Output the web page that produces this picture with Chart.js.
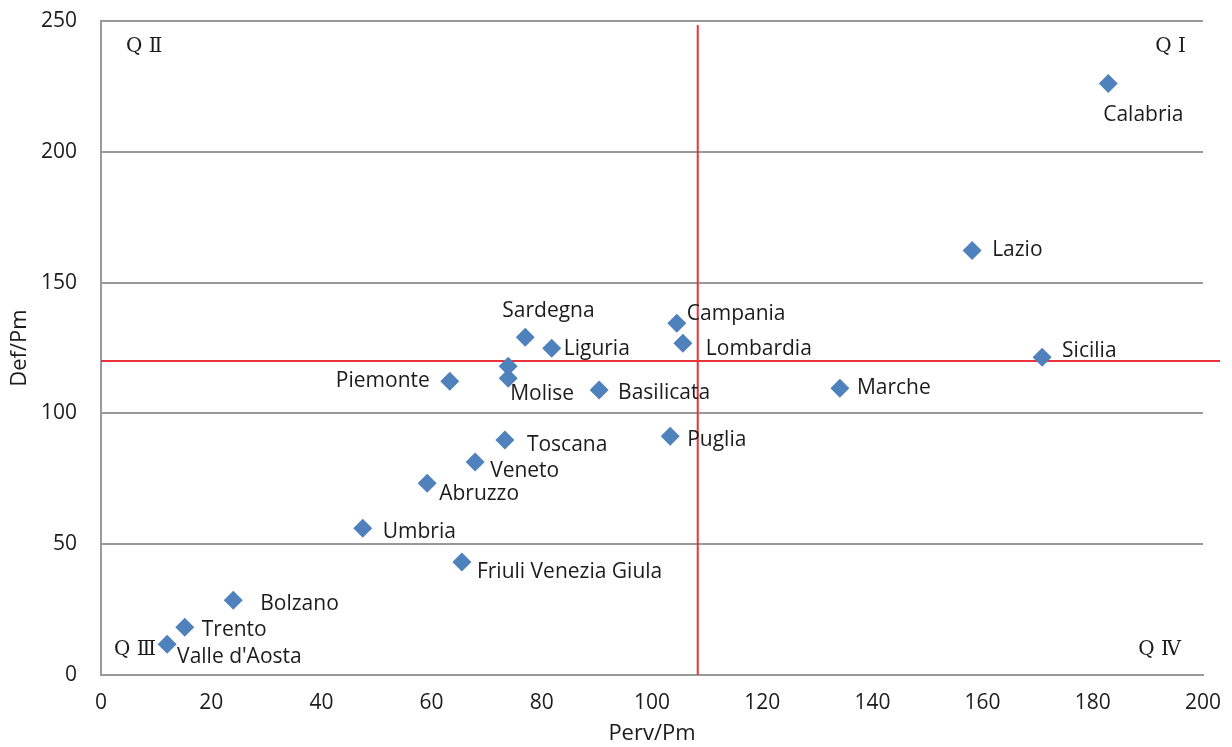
<!DOCTYPE html>
<html>
<head>
<meta charset="utf-8">
<script src="https://cdn.jsdelivr.net/npm/chart.js"></script>
<style>
  html, body { margin: 0; padding: 0; background: #fff; }
  #wrap { width: 1232px; height: 747px; }
</style>
</head>
<body>
<div id="wrap"><canvas id="quadChart"></canvas></div>
<script>
// regions and their (Perv/Pm, Def/Pm) values
const regions = ['Calabria', 'Lazio', 'Sicilia', 'Marche', 'Campania', 'Lombardia', 'Puglia',
  'Basilicata', 'Liguria', 'Sardegna', '', 'Molise', 'Piemonte', 'Toscana', 'Veneto',
  'Abruzzo', 'Umbria', 'Friuli Venezia Giula', 'Bolzano', 'Trento', "Valle d'Aosta"];
const pervPm = [182.8, 158.1, 170.8, 134.1, 104.5, 105.6, 103.3,
  90.4, 81.8, 77.0, 73.9, 73.9, 63.3, 73.3, 67.9,
  59.2, 47.5, 65.5, 24.0, 15.2, 12.0];
const defPm = [226.1, 162.3, 121.5, 109.6, 134.5, 126.8, 91.3,
  108.9, 124.9, 129.1, 118.0, 113.4, 112.3, 89.8, 81.4,
  73.3, 56.1, 43.2, 28.6, 18.3, 11.8];

// quadrant split lines
const splitX = 108.3;
const splitY = 120;

const xTicks = [0, 20, 40, 60, 80, 100, 120, 140, 160, 180, 200];
const yTicks = [0, 50, 100, 150, 200, 250];

// label placement next to each marker: [dx, dy, align]
const labelPos = [
  [-5, 31, 'left'], [20, 0, 'left'], [20, -6, 'left'], [17, 0, 'left'],
  [10, -9, 'left'], [23, 6, 'left'], [17, 4, 'left'], [19, 3, 'left'],
  [12, 1, 'left'], [-23, -26, 'left'], [0, 0, 'left'], [2, 16, 'left'],
  [-20, 0, 'right'], [22, 5, 'left'], [15, 9, 'left'], [12, 11, 'left'],
  [20, 4, 'left'], [15, 10, 'left'], [27, 4, 'left'], [17, 3, 'left'],
  [10, 13, 'left']
];

const TEXT = '#1c1c1c';
const FONT = "'Open Sans', 'DejaVu Sans', sans-serif";

const points = pervPm.map((x, i) => ({ x: x, y: defPm[i] }));

const quadPlugin = {
  id: 'quadrants',
  beforeDatasetsDraw(chart) {
    const { ctx, chartArea, scales } = chart;
    const px = scales.x.getPixelForValue(splitX);
    const py = scales.y.getPixelForValue(splitY);
    ctx.save();
    ctx.strokeStyle = '#e8323c';
    ctx.lineWidth = 2;
    ctx.beginPath();
    ctx.moveTo(px, chartArea.top + 4);
    ctx.lineTo(px, chartArea.bottom);
    ctx.moveTo(chartArea.left, py);
    ctx.lineTo(chartArea.right + 17, py);
    ctx.stroke();
    ctx.restore();
  },
  afterDatasetsDraw(chart) {
    const { ctx, chartArea } = chart;
    const meta = chart.getDatasetMeta(0);
    ctx.save();
    ctx.fillStyle = TEXT;
    ctx.textBaseline = 'middle';
    ctx.font = '21px ' + FONT;
    meta.data.forEach((pt, i) => {
      const p = labelPos[i];
      ctx.textAlign = p[2];
      ctx.fillText(regions[i], pt.x + p[0], pt.y + p[1]);
    });
    // quadrant names
    ctx.font = "20px 'DejaVu Serif', 'Liberation Serif', serif";
    ctx.textAlign = 'left';
    ctx.fillText('Q \u2161', chartArea.left + 25, chartArea.top + 26);
    ctx.fillText('Q \u2162', chartArea.left + 13, chartArea.bottom - 25);
    ctx.textAlign = 'right';
    ctx.fillText('Q \u2160', chartArea.right - 17, chartArea.top + 26);
    ctx.fillText('Q \u2163', chartArea.right - 22, chartArea.bottom - 25);
    ctx.restore();
  }
};

new Chart(document.getElementById('quadChart'), {
  type: 'scatter',
  data: {
    datasets: [{
      data: points,
      pointStyle: 'rectRot',
      pointRadius: 9.5,
      pointHoverRadius: 9.5,
      backgroundColor: '#4f81bd',
      borderColor: '#4f81bd',
      borderWidth: 0
    }]
  },
  options: {
    responsive: true,
    maintainAspectRatio: false,
    animation: false,
    layout: { padding: { top: 21, right: 29, left: 0, bottom: 0 } },
    plugins: {
      legend: { display: false },
      tooltip: { enabled: false }
    },
    scales: {
      x: {
        type: 'linear',
        min: 0,
        max: 200,
        afterBuildTicks: axis => { axis.ticks = xTicks.map(v => ({ value: v })); },
        afterFit: axis => {
          axis.height = 72;
          axis.paddingLeft = 0;
          axis.paddingRight = 0;
        },
        grid: { display: false, drawTicks: false },
        border: { display: true, color: '#999999', width: 2 },
        ticks: { color: TEXT, font: { family: FONT, size: 21 }, padding: 15, maxRotation: 0 },
        title: { display: true, text: 'Perv/Pm', color: TEXT, font: { family: FONT, size: 22 }, padding: { top: 0, bottom: 0 } }
      },
      y: {
        type: 'linear',
        min: 0,
        max: 250,
        afterBuildTicks: axis => { axis.ticks = yTicks.map(v => ({ value: v })); },
        afterFit: axis => {
          axis.width = 101;
          axis.paddingTop = 0;
          axis.paddingBottom = 0;
        },
        grid: { color: '#999999', lineWidth: 2, drawTicks: false },
        border: { display: true, color: '#999999', width: 2 },
        ticks: { color: TEXT, font: { family: FONT, size: 21 }, padding: 24 },
        title: { display: true, text: 'Def/Pm', color: TEXT, font: { family: FONT, size: 22 }, padding: { top: 7, bottom: 7 } }
      }
    }
  },
  plugins: [quadPlugin]
});
</script>
</body>
</html>
